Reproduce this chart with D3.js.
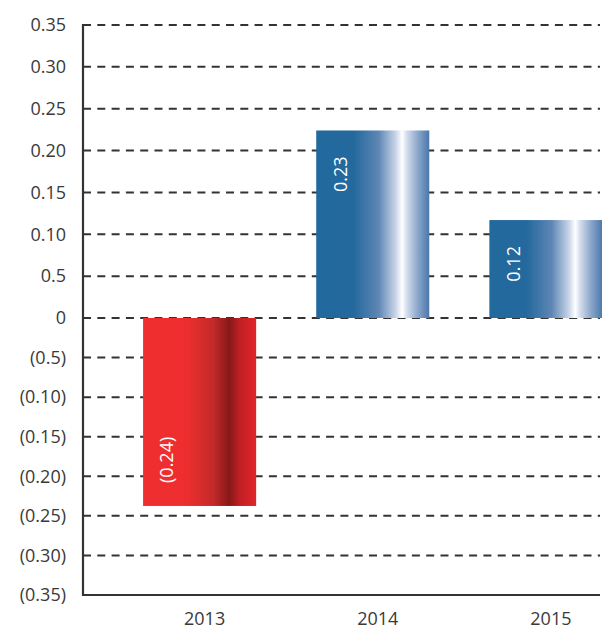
<!DOCTYPE html>
<html><head><meta charset="utf-8">
<script src="https://cdn.jsdelivr.net/npm/d3@7/dist/d3.min.js"></script>
<style>
html,body{margin:0;padding:0;background:#fff;}
svg{display:block;}
text{font-family:"Open Sans","Liberation Sans",sans-serif;}
</style></head>
<body><svg id="c" width="602" height="629"></svg>
<script>
const years = ["2013", "2014", "2015"];
const values = [-0.2375, 0.224, 0.117];
const valueLabels = ["(0.24)", "0.23", "0.12"];
const tickValues = [0.35, 0.30, 0.25, 0.20, 0.15, 0.10, 0.05, 0, -0.05, -0.10, -0.15, -0.20, -0.25, -0.30, -0.35];
const tickLabels = ["0.35", "0.30", "0.25", "0.20", "0.15", "0.10", "0.5", "0", "(0.5)", "(0.10)", "(0.15)", "(0.20)", "(0.25)", "(0.30)", "(0.35)"];

(function () {
const svg = d3.select("#c");
const mLeft = 83, mRight = 600, mTop = 25, mBottom = 595, zeroY = 318;

const y = d3.scaleLinear().domain([-0.35, 0, 0.35]).range([mBottom, zeroY, mTop]);
const x = d3.scaleBand().domain(years).range([mLeft, 662.5]).paddingInner(0.347).paddingOuter(0.347);

// gradients
const defs = svg.append("defs");
const red = defs.append("linearGradient").attr("id", "gRed").attr("x1", "0").attr("x2", "1").attr("y1", "0").attr("y2", "0");
[[0, "#ef2f2f"], [0.38, "#ee2e2e"], [0.62, "#c42a2a"], [0.76, "#861818"], [0.86, "#c22024"], [1, "#e2242a"]]
  .forEach(s => red.append("stop").attr("offset", s[0]).attr("stop-color", s[1]));
const blue = defs.append("linearGradient").attr("id", "gBlue").attr("x1", "0").attr("x2", "1").attr("y1", "0").attr("y2", "0");
[[0, "#22699d"], [0.33, "#24699d"], [0.55, "#5d86b4"], [0.7, "#c6d2e6"], [0.76, "#ffffff"], [0.8, "#d5deed"], [0.9, "#8aa6cb"], [1, "#4a77aa"]]
  .forEach(s => blue.append("stop").attr("offset", s[0]).attr("stop-color", s[1]));

// gridlines
svg.append("g").selectAll("line").data(tickValues).join("line")
  .attr("x1", mLeft).attr("x2", mRight)
  .attr("y1", d => y(d)).attr("y2", d => y(d))
  .attr("stroke", "#333").attr("stroke-width", 2).attr("stroke-dasharray", "8,6.3");

// bars
svg.append("g").selectAll("rect").data(years).join("rect")
  .attr("x", d => x(d))
  .attr("width", x.bandwidth())
  .attr("y", (d, i) => y(Math.max(0, values[i])))
  .attr("height", (d, i) => Math.abs(y(values[i]) - y(0)))
  .attr("fill", (d, i) => values[i] < 0 ? "url(#gRed)" : "url(#gBlue)");

// value labels
svg.append("g").selectAll("text").data(years).join("text")
  .attr("transform", (d, i) => {
    const cx = x(d) + 24;
    const cy = values[i] < 0 ? y(values[i]) - 23 : y(values[i]) + 26;
    return `translate(${cx},${cy}) rotate(-90)`;
  })
  .attr("text-anchor", (d, i) => values[i] < 0 ? "start" : "end")
  .attr("dy", "0.35em")
  .attr("fill", "#fff").attr("font-size", 18)
  .text((d, i) => valueLabels[i]);

// axes lines
svg.append("line").attr("x1", mLeft).attr("x2", mLeft).attr("y1", mTop - 1).attr("y2", mBottom + 1)
  .attr("stroke", "#333").attr("stroke-width", 2.2);
svg.append("line").attr("x1", mLeft - 1).attr("x2", mRight).attr("y1", mBottom).attr("y2", mBottom)
  .attr("stroke", "#333").attr("stroke-width", 2.2);

// y tick labels
svg.append("g").selectAll("text").data(tickValues).join("text")
  .attr("x", 66).attr("y", d => y(d)).attr("dy", "0.35em")
  .attr("text-anchor", "end").attr("font-size", 18).attr("fill", "#3a3a3a")
  .text((d, i) => tickLabels[i]);

// x labels
svg.append("g").selectAll("text").data(years).join("text")
  .attr("x", d => x(d) + x.bandwidth() / 2 + 5).attr("y", 625)
  .attr("text-anchor", "middle").attr("font-size", 18).attr("fill", "#3a3a3a")
  .text(d => d);
})();
</script></body></html>
